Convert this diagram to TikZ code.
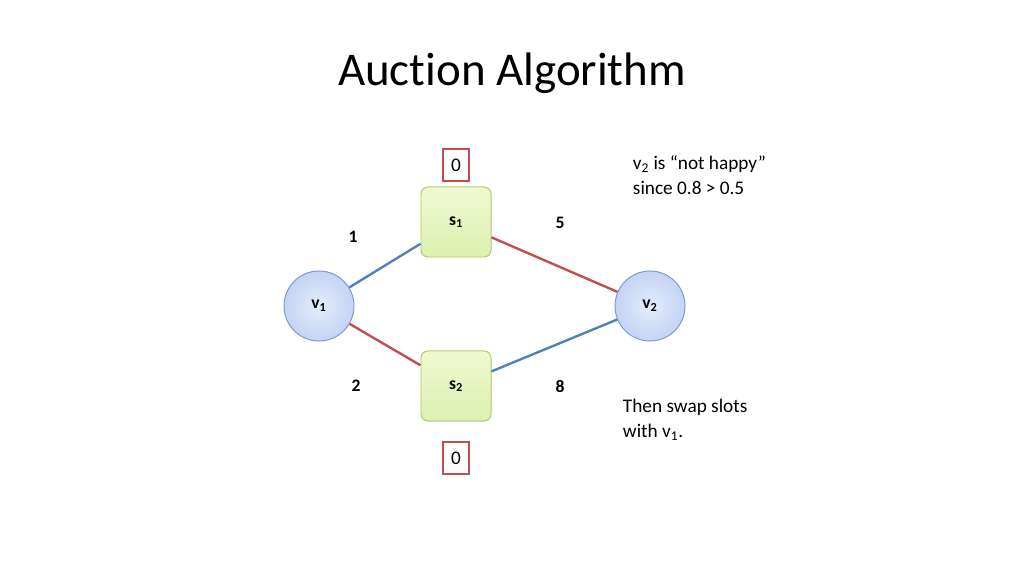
\documentclass[tikz,border=0pt]{standalone}
\usepackage{fontspec}
\setmainfont[Ligatures={NoCommon,NoRare}]{Carlito}
\usepackage{tikz}
\usetikzlibrary{positioning}

\definecolor{edgered}{RGB}{192,80,77}
\definecolor{edgeblue}{RGB}{79,129,189}
\definecolor{vborder}{RGB}{125,155,205}
\definecolor{sborder}{RGB}{175,200,115}
\definecolor{vfillin}{RGB}{228,236,252}
\definecolor{vfillout}{RGB}{196,212,245}
\definecolor{sfilltop}{RGB}{240,249,210}
\definecolor{sfillbot}{RGB}{220,240,175}

\begin{document}
\begin{tikzpicture}
  [x=0.025cm,y=-0.025cm,
   vnode/.style={circle,draw=vborder,line width=0.7pt,minimum size=1.75cm,
     inner color=vfillin,outer color=vfillout,font=\bfseries\fontsize{12.5}{14}\selectfont},
   snode/.style={rectangle,rounded corners=5pt,draw=sborder,line width=0.7pt,minimum size=1.75cm,
     top color=sfilltop,bottom color=sfillbot,font=\bfseries\fontsize{12.5}{14}\selectfont},
   pricebox/.style={rectangle,draw=edgered,line width=1pt,minimum width=0.65cm,minimum height=0.8cm,
     font=\fontsize{13.7}{16}\selectfont},
   wlabel/.style={font=\bfseries\fontsize{12.5}{14}\selectfont},
   note/.style={align=left,anchor=west,font=\fontsize{13.7}{17.5}\selectfont},
   redge/.style={draw=edgered,line width=1.7pt},
   bedge/.style={draw=edgeblue,line width=1.7pt}]

  \useasboundingbox (0,0) rectangle (1024,576);

  \node (title) at (512,73) {\fontsize{33.4}{40}\selectfont Auction Algorithm};

  \node[vnode] (v1) at (319,306) {v\textsubscript{1}};
  \node[vnode] (v2) at (650,306) {v\textsubscript{2}};
  \node[snode] (s1) at (456,222) {s\textsubscript{1}};
  \node[snode] (s2) at (456,386) {s\textsubscript{2}};

  \node[pricebox] (p1) at (456,165) {0};
  \node[pricebox] (p2) at (456,458) {0};

  \draw[bedge] (v1) -- (s1);
  \draw[redge] (s1) -- (v2);
  \draw[redge] (v1) -- (s2);
  \draw[bedge] (s2) -- (v2);

  \node[wlabel] (w1) at (353,237) {1};
  \node[wlabel] (w2) at (356,386) {2};
  \node[wlabel] (w5) at (560,223) {5};
  \node[wlabel] (w8) at (560,386) {8};

  \node[note] (n1) at (628,175) {v\textsubscript{2} is “not happy”\\since 0.8 > 0.5};
  \node[note] (n2) at (618,420) {Then swap slots\\with v\textsubscript{1}.};

\end{tikzpicture}
\end{document}
